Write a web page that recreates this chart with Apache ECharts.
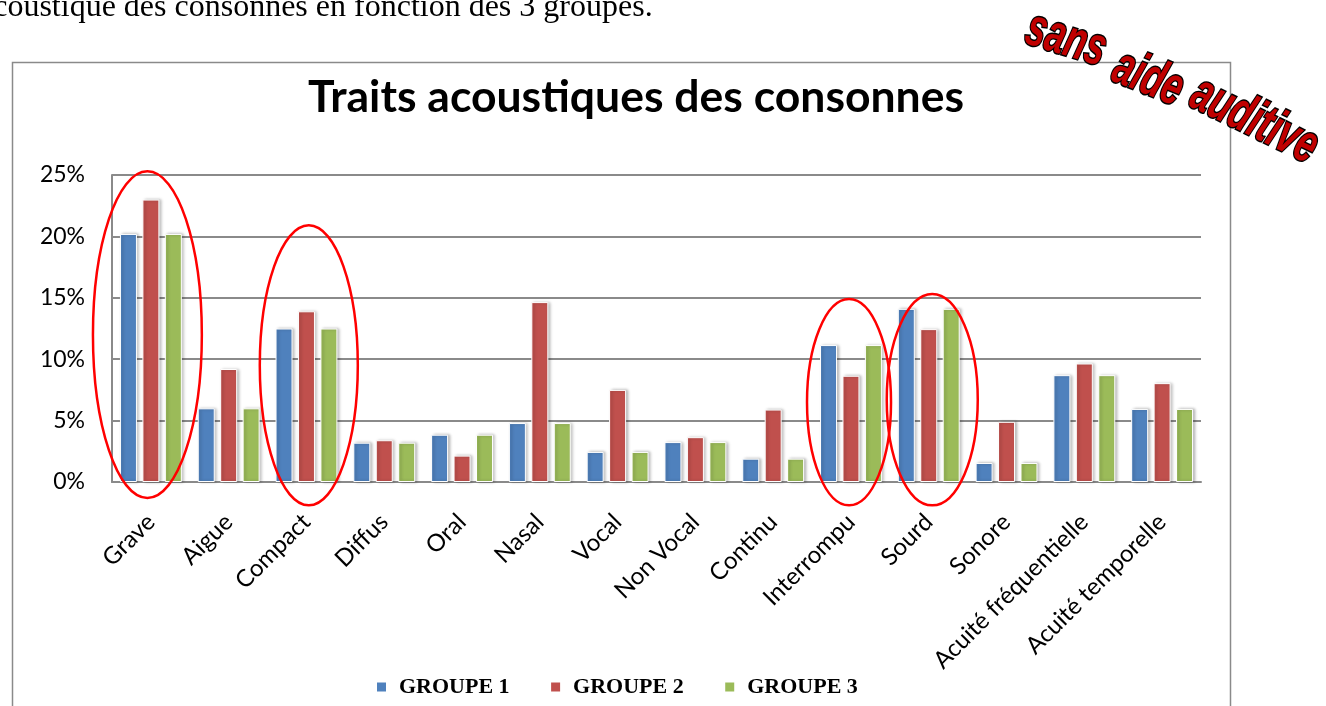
<!DOCTYPE html>
<html>
<head>
<meta charset="utf-8">
<script src="https://cdn.jsdelivr.net/npm/echarts@6.0.0/dist/echarts.min.js"></script>
<style>
  html, body { margin: 0; padding: 0; background: #ffffff; }
  #chart { width: 1326px; height: 706px; }
</style>
</head>
<body>
<div id="chart"></div>
<script>
// Categories (consonant features) and the share of each group, in percent
const categories = ['Grave', 'Aigue', 'Compact', 'Diffus', 'Oral', 'Nasal', 'Vocal', 'Non Vocal',
  'Continu', 'Interrompu', 'Sourd', 'Sonore', 'Acuité fréquentielle', 'Acuité temporelle'];
const groupe1 = [20.2, 6.0, 12.5, 3.2, 3.85, 4.8, 2.45, 3.25, 1.9, 11.15, 14.1, 1.55, 8.7, 5.95];
const groupe2 = [23.0, 9.2, 13.9, 3.4, 2.15, 14.65, 7.5, 3.65, 5.9, 8.65, 12.45, 4.9, 9.65, 8.05];
const groupe3 = [20.2, 6.0, 12.5, 3.2, 3.85, 4.8, 2.45, 3.25, 1.9, 11.15, 14.1, 1.55, 8.7, 5.95];
const seriesNames = ['GROUPE 1', 'GROUPE 2', 'GROUPE 3'];
const yMin = 0, yMax = 25, yStep = 5;

const colors = ['#4f81bd', '#c0504d', '#9bbb59'];
const chart = echarts.init(document.getElementById('chart'), null, { renderer: 'canvas' });

function barSeries(name, data, color) {
  return {
    name: name,
    type: 'bar',
    data: data,
    barWidth: 17,
    barGap: '32%',
    itemStyle: {
      color: color,
      borderColor: '#ffffff',
      borderWidth: 1,
      shadowColor: 'rgba(0,0,0,0.28)',
      shadowBlur: 3,
      shadowOffsetX: 2,
      shadowOffsetY: 0
    },
    emphasis: { disabled: true },
    animation: false
  };
}

const option = {
  animation: false,
  backgroundColor: '#ffffff',
  title: {
    text: 'Traits acoustiques des consonnes',
    left: 303,
    top: 70,
    textStyle: { fontFamily: 'Lato', fontWeight: 'bold', fontSize: 44.5, color: '#000000' }
  },
  legend: {
    data: seriesNames,
    left: 370,
    top: 671,
    icon: 'rect',
    itemWidth: 11,
    itemHeight: 11,
    itemGap: 39.5,
    textStyle: {
      fontFamily: 'Liberation Serif',
      fontWeight: 'bold',
      fontSize: 22,
      color: '#000000',
      padding: [0, 0, 0, 7]
    }
  },
  grid: {
    left: 112,
    right: 125,
    top: 175,
    bottom: 224,
    outerBoundsMode: 'none',
    containLabel: false
  },
  xAxis: {
    type: 'category',
    data: categories,
    axisLine: { show: true, lineStyle: { color: '#8a8a8a', width: 2 } },
    axisTick: { show: false },
    axisLabel: {
      interval: 0,
      rotate: 45,
      margin: 36,
      fontFamily: 'Lato',
      fontSize: 24,
      color: '#000000'
    }
  },
  yAxis: {
    type: 'value',
    min: yMin,
    max: yMax,
    interval: yStep,
    axisLine: { show: true, lineStyle: { color: '#8a8a8a', width: 2 } },
    axisTick: { show: false },
    splitLine: { show: true, lineStyle: { color: '#8a8a8a', width: 2 } },
    axisLabel: {
      formatter: '{value}%',
      margin: 27,
      fontFamily: 'Lato',
      fontSize: 23,
      color: '#000000'
    }
  },
  series: [
    barSeries(seriesNames[0], groupe1, colors[0]),
    barSeries(seriesNames[1], groupe2, colors[1]),
    barSeries(seriesNames[2], groupe3, colors[2])
  ]
};

chart.setOption(option);

// Red ellipses circling the highlighted feature groups, placed from the axes
const circled = [
  { cat: 'Grave', top: 25.3, bottom: -1.3, half: 0.70, shift: -0.045 },
  { cat: 'Compact', top: 20.9, bottom: -1.9, half: 0.63, shift: 0.03 },
  { cat: 'Interrompu', top: 14.9, bottom: -1.9, half: 0.54, shift: -0.025 },
  { cat: 'Sourd', top: 15.3, bottom: -1.9, half: 0.585, shift: 0.045 }
];
const catW = chart.convertToPixel({ xAxisIndex: 0 }, categories[1]) -
             chart.convertToPixel({ xAxisIndex: 0 }, categories[0]);

const graphics = [];

// Outer frame of the chart area
graphics.push({
  type: 'rect',
  shape: { x: 12.5, y: 62.5, width: 1218, height: 700 },
  style: { fill: 'none', stroke: '#8a8a8a', lineWidth: 1.5 },
  z: 0,
  silent: true
});

circled.forEach(function (c) {
  const cx = chart.convertToPixel({ xAxisIndex: 0 }, c.cat) + c.shift * catW;
  const yTop = chart.convertToPixel({ yAxisIndex: 0 }, c.top);
  const yBot = chart.convertToPixel({ yAxisIndex: 0 }, c.bottom);
  graphics.push({
    type: 'ellipse',
    shape: { cx: cx, cy: (yTop + yBot) / 2, rx: c.half * catW, ry: (yBot - yTop) / 2 },
    style: { fill: 'none', stroke: '#ff0000', lineWidth: 2.5 },
    z: 100,
    silent: true
  });
});

// Caption line above the chart
graphics.push({
  type: 'text',
  x: -21,
  y: -8,
  style: {
    text: 'acoustique des consonnes en fonction des 3 groupes.',
    font: '32px "Liberation Serif"',
    fill: '#000000',
    verticalAlign: 'top'
  },
  z: 100,
  silent: true
});

// Stamp in the top-right corner
const stamp = [
  { text: 'sans', x: 1066, y: 40, rot: 17 },
  { text: 'aide', x: 1148, y: 79, rot: 22 },
  { text: 'auditive', x: 1254, y: 121, rot: 26 }
];
stamp.forEach(function (w) {
  graphics.push({
    type: 'text',
    x: w.x,
    y: w.y,
    rotation: -w.rot * Math.PI / 180,
    scaleX: 0.66,
    style: {
      text: w.text,
      font: 'italic bold 54px "Liberation Sans"',
      fill: '#c00000',
      stroke: '#000000',
      lineWidth: 3,
      align: 'center',
      verticalAlign: 'middle'
    },
    z: 200,
    silent: true
  });
});

chart.setOption({ graphic: graphics });
</script>
</body>
</html>
